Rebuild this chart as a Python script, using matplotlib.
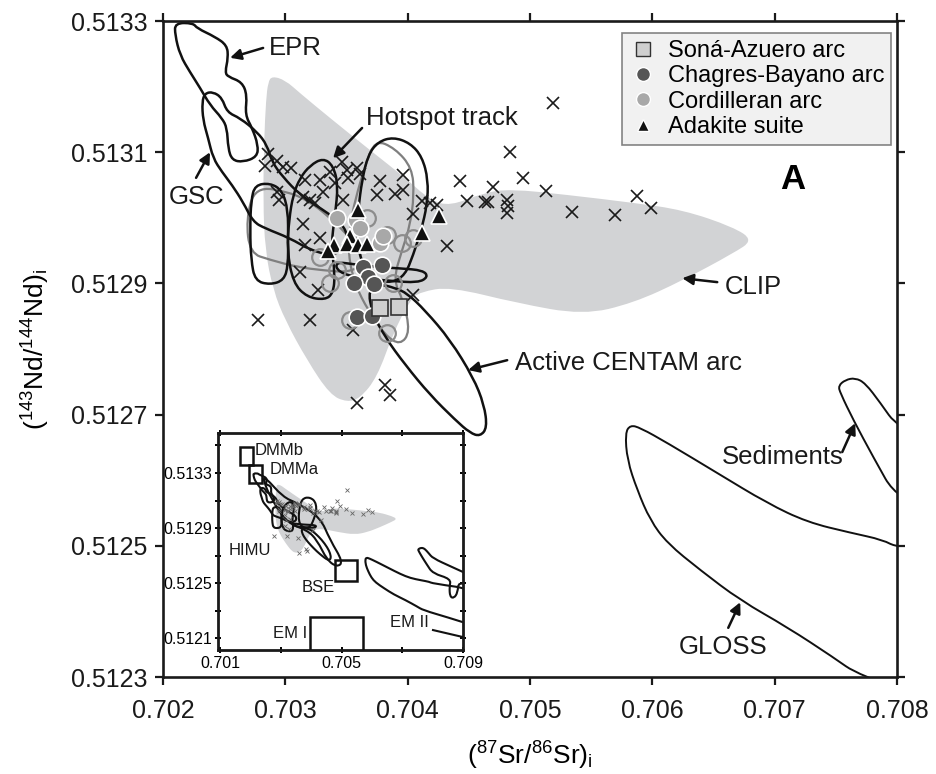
import matplotlib
matplotlib.use("Agg")
import matplotlib.pyplot as plt
from matplotlib.patches import PathPatch, Rectangle
from matplotlib.path import Path
from matplotlib.lines import Line2D

plt.rcParams["font.family"] = ["Liberation Sans", "DejaVu Sans"]
plt.rcParams["mathtext.default"] = "regular"

# ---- sample data: (87Sr/86Sr)i , (143Nd/144Nd)i ----
cross_sr = [0.705189, 0.704837, 0.704429, 0.704698, 0.704944, 0.705132, 0.704486, 0.704633,
            0.704658, 0.704813, 0.704821, 0.704813, 0.705344, 0.705696, 0.705876, 0.705990,
            0.704322, 0.704044, 0.704118, 0.704183, 0.704241, 0.703963, 0.703963, 0.702859,
            0.702834, 0.702932, 0.702981, 0.703047, 0.703161, 0.702932, 0.702949, 0.703145,
            0.703202, 0.703243, 0.703308, 0.703366, 0.703464, 0.703505, 0.703586, 0.703611,
            0.703513, 0.703406, 0.703472, 0.703774, 0.703897, 0.703145, 0.703284, 0.703161,
            0.703120, 0.703267, 0.703202, 0.703554, 0.704044, 0.703815, 0.703856, 0.703586,
            0.702777, 0.703750, 0.703284]
cross_nd = [0.513175, 0.513100, 0.513056, 0.513047, 0.513061, 0.513041, 0.513026, 0.513024,
            0.513024, 0.513027, 0.513018, 0.513007, 0.513009, 0.513004, 0.513033, 0.513015,
            0.512957, 0.513006, 0.513026, 0.513023, 0.513020, 0.513065, 0.513042, 0.513097,
            0.513079, 0.513087, 0.513077, 0.513076, 0.513058, 0.513039, 0.513027, 0.513032,
            0.513027, 0.513023, 0.513039, 0.513070, 0.513085, 0.513073, 0.513076, 0.513067,
            0.513061, 0.513053, 0.513027, 0.513056, 0.513036, 0.512991, 0.512969, 0.512959,
            0.512917, 0.512890, 0.512844, 0.512829, 0.512882, 0.512745, 0.512730, 0.512718,
            0.512844, 0.513035, 0.513058]

sona_sr = [0.703774, 0.703930]
sona_nd = [0.512863, 0.512864]

chagres_sr = [0.703635, 0.703791, 0.703676, 0.703562, 0.703725, 0.703586, 0.703709]
chagres_nd = [0.512925, 0.512928, 0.512910, 0.512901, 0.512899, 0.512849, 0.512850]

cordil_sr = [0.703423, 0.703578, 0.703611, 0.703774, 0.703799]
cordil_nd = [0.513000, 0.512997, 0.512984, 0.512962, 0.512972]

open_sr = [0.703668, 0.703832, 0.703954, 0.704044, 0.703881, 0.703832, 0.703366, 0.703423,
           0.703284, 0.703529]
open_nd = [0.513000, 0.512974, 0.512962, 0.512969, 0.512901, 0.512824, 0.512901, 0.512920,
           0.512940, 0.512844]

adakite_sr = [0.703595, 0.703529, 0.703398, 0.703349, 0.703505, 0.703595, 0.703668, 0.704118,
              0.704257]
adakite_nd = [0.513012, 0.512972, 0.512959, 0.512949, 0.512960, 0.512959, 0.512960, 0.512977,
              0.513003]

# ---- field outlines ----
clip_field = [(0.702891, 0.513216), (0.702998, 0.513210), (0.703120, 0.513190), (0.703366, 0.513152),
              (0.703693, 0.513103), (0.703979, 0.513061), (0.704183, 0.513027), (0.704347, 0.513018),
              (0.704617, 0.513038), (0.704837, 0.513044), (0.705304, 0.513035), (0.705843, 0.513023),
              (0.706252, 0.513012), (0.706661, 0.512986), (0.706824, 0.512966), (0.706661, 0.512946),
              (0.706252, 0.512905), (0.705843, 0.512870), (0.705434, 0.512852), (0.704895, 0.512870),
              (0.704347, 0.512895), (0.704102, 0.512887), (0.704020, 0.512875), (0.703881, 0.512824),
              (0.703750, 0.512757), (0.703611, 0.512725), (0.703505, 0.512719), (0.703366, 0.512730),
              (0.703177, 0.512783), (0.702998, 0.512844), (0.702900, 0.512890), (0.702834, 0.512951),
              (0.702818, 0.513027), (0.702826, 0.513119), (0.702842, 0.513180), (0.702859, 0.513207)]

epr = [(0.702098, 0.513297), (0.702245, 0.513297), (0.702278, 0.513289), (0.702425, 0.513276),
       (0.702523, 0.513263), (0.702532, 0.513244), (0.702507, 0.513222), (0.702532, 0.513215),
       (0.702646, 0.513207), (0.702687, 0.513187), (0.702671, 0.513157), (0.702728, 0.513137),
       (0.702777, 0.513111), (0.702769, 0.513093), (0.702654, 0.513085), (0.702564, 0.513088),
       (0.702532, 0.513106), (0.702523, 0.513137), (0.702482, 0.513152), (0.702384, 0.513172),
       (0.702303, 0.513198), (0.702221, 0.513222), (0.702139, 0.513248), (0.702098, 0.513279)]

gsc = [(0.702343, 0.513190), (0.702409, 0.513192), (0.702482, 0.513183), (0.702523, 0.513161),
       (0.702630, 0.513152), (0.702769, 0.513131), (0.702850, 0.513111), (0.702891, 0.513085),
       (0.702981, 0.513062), (0.703120, 0.513035), (0.703308, 0.513012), (0.703447, 0.512994),
       (0.703513, 0.512974), (0.703488, 0.512951), (0.703366, 0.512943), (0.703202, 0.512951),
       (0.703038, 0.512969), (0.702834, 0.512984), (0.702736, 0.512994), (0.702654, 0.513024),
       (0.702564, 0.513050), (0.702482, 0.513070), (0.702409, 0.513091), (0.702368, 0.513122),
       (0.702327, 0.513149), (0.702319, 0.513177)]

hotspot_a = [(0.702752, 0.513050), (0.702875, 0.513053), (0.702973, 0.513042), (0.703022, 0.513012),
             (0.703022, 0.512966), (0.703022, 0.512928), (0.702989, 0.512905), (0.702875, 0.512898),
             (0.702752, 0.512904), (0.702720, 0.512936), (0.702711, 0.512981), (0.702720, 0.513027)]

hotspot_b = [(0.703308, 0.513091), (0.703390, 0.513080), (0.703431, 0.513050), (0.703406, 0.513004),
             (0.703374, 0.512959), (0.703406, 0.512913), (0.703390, 0.512885), (0.703325, 0.512875),
             (0.703177, 0.512879), (0.703063, 0.512901), (0.703014, 0.512951), (0.703030, 0.512997),
             (0.703063, 0.513035), (0.703120, 0.513061), (0.703202, 0.513080)]

hotspot_c = [(0.703676, 0.513096), (0.703758, 0.513116), (0.703881, 0.513123), (0.704020, 0.513114),
             (0.704118, 0.513093), (0.704167, 0.513058), (0.704159, 0.513020), (0.704110, 0.512981),
             (0.704044, 0.512943), (0.703979, 0.512913), (0.703873, 0.512901), (0.703734, 0.512905),
             (0.703627, 0.512928), (0.703586, 0.512966), (0.703595, 0.513012), (0.703627, 0.513058)]

hotspot_d = [(0.703406, 0.512933), (0.703570, 0.512929), (0.703750, 0.512925), (0.703938, 0.512923),
             (0.704126, 0.512920), (0.704167, 0.512910), (0.704085, 0.512901), (0.703856, 0.512904),
             (0.703611, 0.512908), (0.703431, 0.512917)]

grey_a = [(0.703734, 0.513119), (0.703652, 0.513080), (0.703570, 0.513027), (0.703529, 0.512989),
          (0.703513, 0.512943), (0.703570, 0.512898), (0.703676, 0.512859), (0.703815, 0.512821),
          (0.703938, 0.512806), (0.704020, 0.512826), (0.703963, 0.512875), (0.703881, 0.512905),
          (0.703954, 0.512951), (0.704020, 0.512989), (0.704052, 0.513035), (0.704036, 0.513076),
          (0.703897, 0.513106)]

grey_b = [(0.702752, 0.513048), (0.703038, 0.513039), (0.703202, 0.513024), (0.703341, 0.513004),
          (0.703488, 0.512978), (0.703611, 0.512951), (0.703627, 0.512928), (0.703513, 0.512917),
          (0.703308, 0.512920), (0.703096, 0.512925), (0.702875, 0.512936), (0.702711, 0.512946),
          (0.702679, 0.512997)]

centam = [(0.703676, 0.512890), (0.703774, 0.512899), (0.703897, 0.512893), (0.703995, 0.512885),
          (0.704142, 0.512859), (0.704347, 0.512814), (0.704535, 0.512757), (0.704625, 0.512715),
          (0.704649, 0.512680), (0.704592, 0.512667), (0.704510, 0.512672), (0.704388, 0.512692),
          (0.704183, 0.512730), (0.703979, 0.512776), (0.703815, 0.512818), (0.703709, 0.512856)]

gloss = [(0.705819, 0.512684), (0.705778, 0.512672), (0.705794, 0.512631), (0.705876, 0.512585),
         (0.705982, 0.512539), (0.706121, 0.512504), (0.706391, 0.512463), (0.706718, 0.512417),
         (0.707102, 0.512376), (0.707479, 0.512330), (0.707683, 0.512303), (0.708500, 0.512250),
         (0.709500, 0.512180), (0.709500, 0.512450), (0.708002, 0.512497), (0.707887, 0.512509),
         (0.707618, 0.512520), (0.707266, 0.512536), (0.706939, 0.512565), (0.706530, 0.512611),
         (0.706121, 0.512657), (0.705900, 0.512680)]

sediments = [(0.707536, 0.512733), (0.707520, 0.512744), (0.707577, 0.512753), (0.707658, 0.512756),
             (0.707740, 0.512748), (0.707863, 0.512718), (0.708002, 0.512681), (0.708600, 0.512620),
             (0.709300, 0.512550), (0.709300, 0.512470), (0.708850, 0.512510), (0.708820, 0.512430),
             (0.708700, 0.512390), (0.708570, 0.512400), (0.708550, 0.512470), (0.708600, 0.512530),
             (0.708002, 0.512570), (0.707806, 0.512635), (0.707642, 0.512692)]

# inset-only reference components
inset_band = [(0.70248, 0.513271), (0.70307, 0.513125), (0.70353, 0.513082), (0.70429, 0.512980),
              (0.70462, 0.512813), (0.70505, 0.512653), (0.70485, 0.512616), (0.70452, 0.512667),
              (0.70419, 0.512813), (0.70386, 0.512885), (0.70320, 0.512936), (0.70265, 0.513125),
              (0.70242, 0.513249)]
end_members = ["DMMb", "DMMa", "BSE", "EM I"]
em_sr = [(0.70166, 0.70209), (0.70195, 0.70238), (0.70479, 0.70551), (0.70396, 0.70571)]
em_nd = [(0.513358, 0.513489), (0.513227, 0.513358), (0.512515, 0.512667), (0.511900, 0.512253)]

BLACK_FIELDS = [epr, gsc, hotspot_a, hotspot_b, hotspot_c, hotspot_d, centam]
GREY_FIELDS = [grey_a, grey_b]


def smooth_patch(pts, **kw):
    """Closed outline drawn as quadratic Bezier segments through edge midpoints."""
    n = len(pts)
    mids = [((pts[i][0] + pts[(i + 1) % n][0]) / 2, (pts[i][1] + pts[(i + 1) % n][1]) / 2)
            for i in range(n)]
    verts = [mids[-1]]
    codes = [Path.MOVETO]
    for i in range(n):
        verts += [pts[i], mids[i]]
        codes += [Path.CURVE3, Path.CURVE3]
    verts.append(mids[-1])
    codes.append(Path.CLOSEPOLY)
    return PathPatch(Path(verts, codes), **kw)


fig = plt.figure(figsize=(9.37, 7.74), dpi=100)
ax = fig.add_axes([0.1740, 0.1253, 0.7834, 0.8475])

ax.add_patch(smooth_patch(clip_field, fc="#d2d3d5", ec="none", zorder=1))
for pts in GREY_FIELDS:
    ax.add_patch(smooth_patch(pts, fill=False, ec="#7f7f7f", lw=1.6, zorder=2))
for pts in BLACK_FIELDS:
    ax.add_patch(smooth_patch(pts, fill=False, ec="#111111", lw=1.8, zorder=2.2))
for pts in (gloss, sediments):
    ax.add_patch(smooth_patch(pts, fill=False, ec="#111111", lw=1.4, zorder=2.2))

ax.plot(cross_sr, cross_nd, ls="none", marker="x", ms=8, mew=1.2, color="#1a1a1a", zorder=3)
ax.plot(open_sr, open_nd, ls="none", marker="o", ms=12, mfc="none", mec="#8c8c8c", mew=1.6, zorder=3.5)
ax.plot(chagres_sr, chagres_nd, ls="none", marker="o", ms=12, mfc="#555555", mec="white", mew=1.2, zorder=4)
ax.plot(cordil_sr, cordil_nd, ls="none", marker="o", ms=12, mfc="#a8a8a8", mec="white", mew=1.2, zorder=4)
ax.plot(sona_sr, sona_nd, ls="none", marker="s", ms=11, mfc="#cfcfcf", mec="#333333", mew=1.2, zorder=4.5)
ax.plot(adakite_sr, adakite_nd, ls="none", marker="^", ms=12, mfc="#111111", mec="white", mew=1.2, zorder=5)

# field labels with arrows: text, text position, arrow start, arrow tip, alignment
arrow_kw = dict(arrowstyle="-|>", color="#111111", lw=1.8, mutation_scale=16, shrinkA=0, shrinkB=0)
labels = [
    ("EPR", (0.703079, 0.513259), (0.702818, 0.513259), (0.702548, 0.513244), "center"),
    ("GSC", (0.702278, 0.513032), (0.702270, 0.513061), (0.702384, 0.513100), "center"),
    ("Hotspot track", (0.704281, 0.513152), (0.703627, 0.513137), (0.703390, 0.513091), "center"),
    ("CLIP", (0.706824, 0.512895), (0.706530, 0.512902), (0.706244, 0.512908), "center"),
    ("Active CENTAM arc", (0.704878, 0.512779), (0.704813, 0.512783), (0.704494, 0.512768), "left"),
    ("Sediments", (0.707061, 0.512635), (0.707552, 0.512643), (0.707658, 0.512687), "center"),
    ("GLOSS", (0.706579, 0.512346), (0.706620, 0.512375), (0.706718, 0.512414), "center"),
]
for text, pos, start, tip, ha in labels:
    ax.text(pos[0], pos[1], text, fontsize=18.5, ha=ha, va="center", color="#1a1a1a", zorder=6)
    ax.annotate("", xy=tip, xytext=start, arrowprops=arrow_kw, zorder=6)

ax.text(0.858, 0.758, "A", transform=ax.transAxes, fontsize=25, fontweight="bold",
        ha="center", va="center")

ax.set_xlim(0.702, 0.708)
ax.set_ylim(0.5123, 0.5133)
ax.set_xticks([0.702, 0.703, 0.704, 0.705, 0.706, 0.707, 0.708])
ax.set_xticklabels(["0.702", "0.703", "0.704", "0.705", "0.706", "0.707", "0.708"])
ax.set_yticks([0.5123, 0.5125, 0.5127, 0.5129, 0.5131, 0.5133])
ax.set_yticklabels(["0.5123", "0.5125", "0.5127", "0.5129", "0.5131", "0.5133"])
ax.tick_params(direction="out", length=6, width=1.6, labelsize=18, top=True, right=True,
               color="#1a1a1a", labelcolor="#1a1a1a")
ax.tick_params(axis="x", pad=10)
ax.tick_params(axis="y", pad=5)
for sp in ax.spines.values():
    sp.set_linewidth(1.9)
    sp.set_color("#1a1a1a")
ax.set_xlabel(r"($^{87}$Sr/$^{86}$Sr)$_{i}$", fontsize=19, labelpad=12)
ax.set_ylabel(r"($^{143}$Nd/$^{144}$Nd)$_{i}$", fontsize=19, labelpad=14)

handles = [
    Line2D([], [], ls="none", marker="s", ms=10, mfc="#cfcfcf", mec="#333333", mew=1.0),
    Line2D([], [], ls="none", marker="o", ms=10, mfc="#555555", mec="white", mew=1.0),
    Line2D([], [], ls="none", marker="o", ms=10, mfc="#a8a8a8", mec="white", mew=1.0),
    Line2D([], [], ls="none", marker="^", ms=9, mfc="#111111", mec="white", mew=1.0),
]
leg = ax.legend(handles, ["Soná-Azuero arc", "Chagres-Bayano arc", "Cordilleran arc", "Adakite suite"],
                loc="upper right", bbox_to_anchor=(0.992, 0.982), borderaxespad=0, fontsize=17,
                frameon=True, fancybox=False, labelspacing=0.14, handletextpad=0.45,
                borderpad=0.3, handlelength=1.2)
leg.get_frame().set_facecolor("#eeeeee")
leg.get_frame().set_edgecolor("#666666")
leg.get_frame().set_linewidth(1.2)
leg.set_zorder(7)

# ---- inset ----
ins = fig.add_axes([0.2327, 0.1602, 0.2615, 0.2804])
ins.set_zorder(8)
ins.add_patch(smooth_patch(clip_field, fc="#d2d3d5", ec="none", zorder=1))
for pts in BLACK_FIELDS + [inset_band, gloss, sediments]:
    ins.add_patch(smooth_patch(pts, fill=False, ec="#111111", lw=1.5, zorder=2))
ins.plot(cross_sr, cross_nd, ls="none", marker="x", ms=3, mew=0.6, color="#666666", zorder=3)
for name, (x0, x1), (y0, y1) in zip(end_members, em_sr, em_nd):
    ins.add_patch(Rectangle((x0, y0), x1 - x0, y1 - y0, fill=False, ec="#111111", lw=1.8, zorder=4))

ins_text = [("DMMb", 0.70212, 0.513467, "left"), ("DMMa", 0.70262, 0.513322, "left"),
            ("HIMU", 0.70199, 0.512740, "center"), ("BSE", 0.70423, 0.512471, "center"),
            ("EM I", 0.70330, 0.512136, "center"), ("EM II", 0.70725, 0.512216, "center")]
for text, sx, sy, ha in ins_text:
    ins.text(sx, sy, text, fontsize=12, ha=ha, va="center", color="#1a1a1a", zorder=5)
ins.plot([0.70801, 0.70900], [0.512158, 0.512107], color="#111111", lw=1.5, zorder=5)

ins.set_xlim(0.70093, 0.709)
ins.set_ylim(0.512013, 0.513591)
ins.set_xticks([0.701, 0.705, 0.709])
ins.set_xticklabels(["0.701", "0.705", "0.709"])
ins.set_xticks([0.703, 0.707], minor=True)
ins.set_yticks([0.5121, 0.5125, 0.5129, 0.5133])
ins.set_yticklabels(["0.5121", "0.5125", "0.5129", "0.5133"])
ins.set_yticks([0.5123, 0.5127, 0.5131, 0.5135], minor=True)
ins.tick_params(which="both", direction="inout", length=5, width=1.4, labelsize=11.5,
                top=True, right=True, pad=2)
for sp in ins.spines.values():
    sp.set_linewidth(2.0)
    sp.set_color("#1a1a1a")

fig.savefig("out.png", dpi=100)
